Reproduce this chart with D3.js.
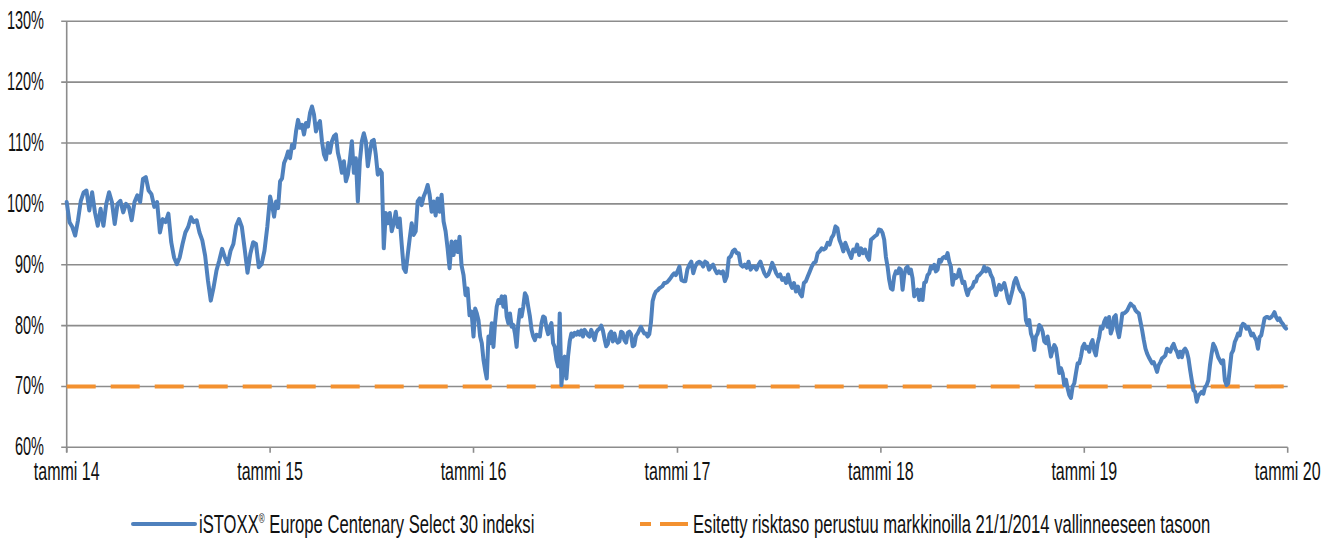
<!DOCTYPE html>
<html>
<head>
<meta charset="utf-8">
<script src="https://cdn.jsdelivr.net/npm/d3@7"></script>
<style>
  body { margin: 0; background: #fff; }
  text { font-family: "Liberation Sans Narrow", "Liberation Sans", Arial, sans-serif; fill: #111; }
</style>
</head>
<body>
<svg id="chart" width="1338" height="547"></svg>
<script>
// index level (% of 21/1/2014 level), one array per calendar year
const years = [2014, 2015, 2016, 2017, 2018, 2019];

const idx2014 = [100.3, 97, 96.2, 94.8, 97.3, 100.5, 101.9, 102.2, 98.9, 101.9, 98.6, 96.4, 99.2, 96.4, 100, 101.9, 100.3, 96.7, 100, 100.5, 98.6, 100, 99.5, 97.3, 100.3, 101.4, 100.3, 104.1, 104.4, 102.2, 101.6, 99.5, 100.3, 95.3, 97.5, 97, 98.4, 93.7, 91.2, 90.1, 91.2, 93.4, 95.3, 96.2, 97.8, 97, 97.3, 95.3, 94, 91.5, 87.4, 84.1, 86.3, 89, 90.7, 92.6, 91.2, 90.1, 92.3, 93.4, 96.4, 97.5, 96.2, 92.6, 88.7, 91.8, 93.7, 93.4, 89.6, 90.1, 92.3, 96.2];

const idx2015 = [101.2, 99.8, 97.9, 100.4, 99.3, 103.7, 104.2, 106.7, 107.5, 108.6, 107.5, 109.7, 109.2, 111.9, 113.8, 112.5, 113, 111.4, 113.3, 112.7, 114.9, 116, 114.7, 111.9, 113, 113.6, 110.3, 108.1, 107.3, 110, 108.4, 110.3, 111.1, 111.4, 108.4, 107, 105.1, 107, 103.7, 104.8, 107.3, 110.3, 105.1, 107.5, 100.4, 107, 110.3, 111.6, 110.3, 106.2, 108.4, 110.3, 110.5, 108.1, 104.8, 105.6, 105.1, 92.7, 98.5, 96.8, 98.5, 95.5, 96.8, 98.7, 96.2, 97.6, 93.3, 89.4, 88.8, 91.6, 94.3, 96.8, 94.9, 95.5, 100.4, 100.9, 99.8, 101.2, 102, 103.1, 101.5, 98.7, 100.4, 98.1, 100.9, 98.7, 101.5, 97.1, 95.5, 92.7, 89.4, 93.8, 91.6, 93.8, 92.1, 94.6, 89.9, 88.3, 85, 86.1, 81.7, 82.3];

const idx2016 = [78.2, 82.8, 82, 80.9, 78.2, 77.1, 74.4, 72.7, 71.3, 78.2, 77.1, 80.4, 76.5, 80.4, 83.1, 84.2, 83.7, 84.8, 83.1, 84.8, 81.5, 80.4, 82, 79.8, 80.1, 78.7, 76.5, 80.4, 82.6, 81.5, 83.1, 85.3, 84.8, 83.1, 81.5, 79.3, 78.2, 77.6, 78.5,
  78.3, 78.2, 80.4, 81.5, 81.3, 79.6, 78.6, 79.8, 80.4, 77.1, 76.5, 74.4, 73.3, 82, 70.2, 73.3, 74.9, 71.3, 74.9, 77.4, 78.7, 78.2,
  78.8, 78.5, 79, 78.5, 79.2, 78.2, 79.3, 78.9, 78.4, 78.2, 79.3, 78.5, 77.6, 78.9, 79.3, 79.5, 80, 79.2, 77.8, 76.6, 77, 78.6, 79, 77.4, 78.7, 77.6, 77.2, 77.4, 79, 78.8, 77.6, 77.2, 78.8, 79, 78.6, 76.6, 76.8, 78.3, 78.7, 79.3, 79.8, 79.2, 78.7, 78.7, 78.2, 78.6, 80.5, 84, 85, 85.6, 85.8, 86.1, 86.3, 86.5, 87, 87, 87.2, 87.5, 87.9, 88.3, 88.6, 88.3];

const idx2017 = [88.9, 89.7, 87.5, 87.3, 87.3, 89.2, 90, 90.5, 88.6, 89.7, 90.3, 90.5, 90.3, 89.7, 90.5, 90.3, 89.2, 89.7, 90, 89.2, 88.6, 88.9, 88.6, 88.9, 87.3, 88.1, 91.1, 91.4, 92.2, 92.5, 91.9, 91.9, 90, 89.7, 90, 89.5, 90.5, 89.2, 89.7, 89.7, 89.2, 90, 90.5, 89.5, 88.6, 88.1, 88.4, 89.2, 90.3, 89.5, 88.6, 88.1, 88.4, 87.5, 87.8, 87, 88.4, 87, 86.2, 87, 85.6, 86.4, 85.3, 84.8, 87, 87.3, 88.1, 88.9, 89.7, 90.3, 90.5, 91.9, 92.2, 92.7, 92.5, 92.7, 93.6, 93.3, 94.4, 94.9, 96.3, 96, 94.1, 93.3, 92.2, 93.6, 92.7, 91.9, 91.1, 92.5, 92.2, 93.3, 91.6, 92.7, 91.9, 92.5, 91.4, 90.8, 94.1, 94.4, 94.7, 94.9, 95.8];

const idx2018 = [95.7, 95.2, 94.1, 91.3, 89.7, 87.5, 86.1, 85.9, 88.1, 88.9, 88.6, 89.4, 89.2, 85.9, 88.3, 89.4, 89.7, 88.6, 89.2, 87.8, 84.8, 85.6, 85.9, 84.2, 85.9, 84.2, 87, 87.2, 88.3, 88.6, 89.7, 89.4, 90, 88.9, 89.2, 90.8, 90.5, 91.1, 91.3, 91.1, 91.9, 90.5, 89.7, 86.7, 88.3, 87.8, 88.1, 89.2, 88.1, 87, 87.2, 85.9, 85, 85.9, 86.1, 86.4, 87.2, 87.2, 88.1, 88.3, 88.6, 88.9, 89.7, 88.9, 89.4, 89.2, 88.3, 87.8, 86.4, 85, 85.9, 86.7, 85.9, 86.4, 87, 85.9, 84.5, 83.7, 84.8, 85.9, 87.2, 87.8, 87, 86.1, 85.6, 85.3, 84.2, 80.9, 80.1, 80.9, 78.7, 77.9, 76, 78.2, 78.7, 80.1, 79.8, 79, 77.4, 77.1, 78.2, 76.5, 74.9, 76, 76.8, 76.3, 74.4, 72.2, 73, 72.2, 70.2, 71.1, 69.7, 68.6, 68.1, 70, 70.5, 72.2, 73.8, 73.8, 74.9, 76.5];

const idx2019 = [77, 76.2, 76.5, 75.7, 77, 77.6, 75.9, 75.1, 77, 78.1, 79.8, 79.5, 80.6, 81.2, 79.8, 81.4, 78.7, 79.5, 81.4, 81.7, 79.2, 78.1, 79.8, 82, 82, 82.2, 82.5, 83.1, 83.6, 83.3, 83.1, 82.5, 82.2, 82, 80.6, 79.2, 77.6, 76.2, 75.4, 74.8, 74.3, 73.8, 74, 73.2, 72.4, 73.5, 74, 74.6, 74.8, 75.1, 76.2, 75.9, 75.7, 76.5, 77, 76.2, 75.7, 74.8, 75.7, 74.8, 75.9, 76.2, 75.7, 74.6, 72.7, 71, 69.4, 69.1, 67.5, 68.5, 68.8, 69.1, 68.8, 69.9, 70.2, 71, 73.5, 75.4, 77, 76.5, 75.7, 74.8, 74.3, 73.8, 74.3, 71, 70.2, 70.5, 72.9, 75.4, 75.9, 77.3, 77.9, 78.7, 78.4, 79.8, 80.3, 80.1, 79.5, 79.8, 79.2, 78.4, 78.7, 78.1, 77.6, 76.2, 78.1, 78.4, 79.8, 81.2, 81.4, 81.4, 81.2, 81.4, 81.7, 82.2, 81.4, 80.9, 81.2, 80.6, 80.3, 79.8, 79.5];

const seriesByYear = [idx2014, idx2015, idx2016, idx2017, idx2018, idx2019];

const riskLevel = 70;
const yTicks = [60, 70, 80, 90, 100, 110, 120, 130];
const xTickYears = [2014, 2015, 2016, 2017, 2018, 2019, 2020];
const xTickLabels = ["tammi 14", "tammi 15", "tammi 16", "tammi 17", "tammi 18", "tammi 19", "tammi 20"];
const legendNames = ["iSTOXX", " Europe Centenary Select 30 indeksi", "Esitetty risktaso perustuu markkinoilla 21/1/2014 vallinneeseen tasoon"];

const blue = "#4F81BD", orange = "#F39130", gridColor = "#8c8c8c";

// spread each year's readings evenly through that year
const points = [];
years.forEach((yr, k) => {
  const vals = seriesByYear[k];
  const t0 = new Date(yr, 0, 1), t1 = new Date(yr + 1, 0, 1);
  vals.forEach((v, i) => points.push({ date: new Date(+t0 + (t1 - t0) * i / vals.length), value: v }));
});

const plotLeft = 66.7, plotRight = 1287.7, plotTop = 21.3, plotBottom = 447.3;
const svg = d3.select("#chart");

const x = d3.scaleTime()
  .domain([new Date(2014, 0, 1), new Date(2020, 0, 1)])
  .range([plotLeft, plotRight]);
const y = d3.scaleLinear().domain([60, 130]).range([plotBottom, plotTop]);

// horizontal gridlines (stick out 5px left as tick marks)
svg.append("g").selectAll("line").data(yTicks).join("line")
  .attr("x1", plotLeft - 5.5).attr("x2", plotRight)
  .attr("y1", d => y(d)).attr("y2", d => y(d))
  .attr("stroke", gridColor).attr("stroke-width", 1.6);

// vertical axis
svg.append("line")
  .attr("x1", plotLeft).attr("x2", plotLeft).attr("y1", plotTop).attr("y2", plotBottom + 5)
  .attr("stroke", gridColor).attr("stroke-width", 1.6);

// x ticks
const xTickDates = xTickYears.map(yr => new Date(yr, 0, 1));
svg.append("g").selectAll("line").data(xTickDates).join("line")
  .attr("x1", d => x(d)).attr("x2", d => x(d))
  .attr("y1", plotBottom).attr("y2", plotBottom + 5.5)
  .attr("stroke", gridColor).attr("stroke-width", 1.6);

// the original font is very condensed: squeeze horizontally
const fontSize = 25;

svg.append("g").selectAll("text").data(yTicks).join("text")
  .attr("transform", d => `translate(44,${y(d) + 8}) scale(0.58,1)`)
  .attr("text-anchor", "end")
  .attr("font-size", fontSize)
  .text(d => d + "%");

svg.append("g").selectAll("text").data(xTickDates).join("text")
  .attr("transform", d => `translate(${x(d)},480) scale(0.64,1)`)
  .attr("text-anchor", "middle")
  .attr("font-size", fontSize)
  .text((d, i) => xTickLabels[i]);

// risk level (dashed)
svg.append("line")
  .attr("x1", x(new Date(2014, 0, 1))).attr("x2", x(new Date(2020, 0, 1)))
  .attr("y1", y(riskLevel)).attr("y2", y(riskLevel))
  .attr("stroke", orange).attr("stroke-width", 4)
  .attr("stroke-dasharray", "29,15");

// index line
const line = d3.line().x(d => x(d.date)).y(d => y(d.value));
svg.append("path")
  .datum(points)
  .attr("d", line)
  .attr("fill", "none")
  .attr("stroke", blue)
  .attr("stroke-width", 4)
  .attr("stroke-linejoin", "round")
  .attr("stroke-linecap", "round");

// legend
const legY = 524;
svg.append("line").attr("x1", 133).attr("x2", 195).attr("y1", legY).attr("y2", legY)
  .attr("stroke", blue).attr("stroke-width", 4).attr("stroke-linecap", "round");
const leg1 = svg.append("text")
  .attr("transform", `translate(199,${legY + 8.5}) scale(0.665,1)`)
  .attr("font-size", fontSize);
leg1.append("tspan").text(legendNames[0]);
leg1.append("tspan").attr("font-size", 12).attr("dy", -10).text("®");
leg1.append("tspan").attr("dy", 10).text(legendNames[1]);

svg.append("line").attr("x1", 640).attr("x2", 688).attr("y1", legY).attr("y2", legY)
  .attr("stroke", orange).attr("stroke-width", 4)
  .attr("stroke-dasharray", "11,9,28,0");
svg.append("text")
  .attr("transform", `translate(693,${legY + 8.5}) scale(0.665,1)`)
  .attr("font-size", fontSize)
  .text(legendNames[2]);
</script>
</body>
</html>
